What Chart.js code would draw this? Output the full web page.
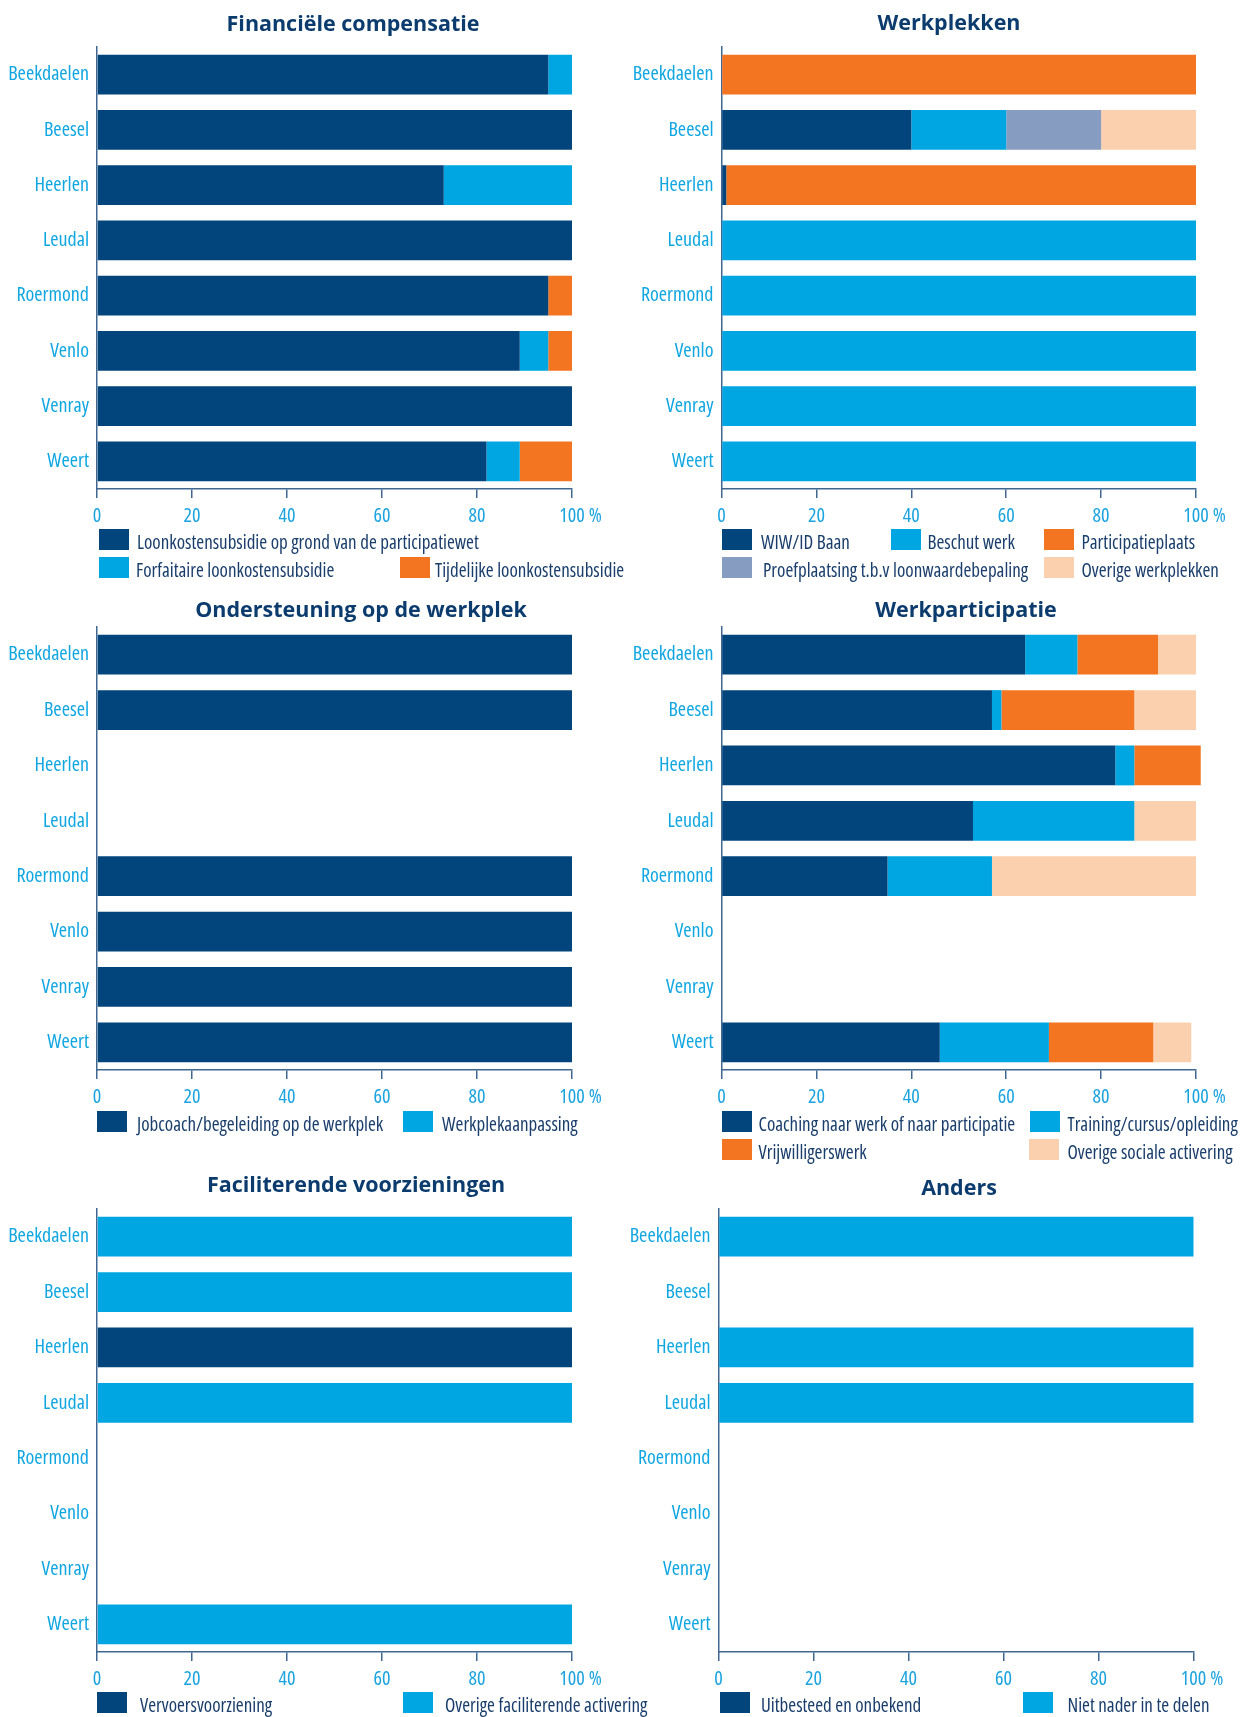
<!DOCTYPE html>
<html lang="nl">
<head>
<meta charset="utf-8">
<script src="https://cdn.jsdelivr.net/npm/chart.js@4.4.1/dist/chart.umd.min.js"></script>
<style>
  html, body { margin: 0; padding: 0; background: #ffffff; }
  #page { position: relative; width: 1244px; height: 1717px; overflow: hidden; background: #fff; }
  .wrap { position: absolute; }
  .title { position: absolute; width: 600px; text-align: center; font-family: "Open Sans", Lato, sans-serif; font-weight: 700; font-stretch: 96%; font-size: 21.5px; line-height: 28px; color: #0c3c6e; white-space: nowrap; }
  .sw { position: absolute; width: 30px; height: 21px; }
  .lt { position: absolute; font-family: "Open Sans", sans-serif; font-stretch: condensed; font-size: 19px; line-height: 21px; color: #1a3e6c; white-space: nowrap; }
</style>
</head>
<body>
<div id="page"></div>
<script>
// ---------- data ----------
const categories = ['Beekdaelen', 'Beesel', 'Heerlen', 'Leudal', 'Roermond', 'Venlo', 'Venray', 'Weert'];
const xTickValues = [0, 20, 40, 60, 80, 100];

// Financiële compensatie
const finLabels = ['Loonkostensubsidie op grond van de participatiewet', 'Forfaitaire loonkostensubsidie', 'Tijdelijke loonkostensubsidie'];
const finLoonkosten = [95, 100, 73, 100, 95, 89, 100, 82];
const finForfaitair = [5, 0, 27, 0, 0, 6, 0, 7];
const finTijdelijk  = [0, 0, 0, 0, 5, 5, 0, 11];

// Werkplekken
const wplLabels = ['WIW/ID Baan', 'Beschut werk', 'Participatieplaats', 'Proefplaatsing t.b.v loonwaardebepaling', 'Overige werkplekken'];
const wplWiw          = [0, 40, 1, 0, 0, 0, 0, 0];
const wplBeschut      = [0, 20, 0, 100, 100, 100, 100, 100];
const wplParticipatie = [100, 0, 99, 0, 0, 0, 0, 0];
const wplProef        = [0, 20, 0, 0, 0, 0, 0, 0];
const wplOverig       = [0, 20, 0, 0, 0, 0, 0, 0];

// Ondersteuning op de werkplek
const ondLabels = ['Jobcoach/begeleiding op de werkplek', 'Werkplekaanpassing'];
const ondJobcoach   = [100, 100, 0, 0, 100, 100, 100, 100];
const ondAanpassing = [0, 0, 0, 0, 0, 0, 0, 0];

// Werkparticipatie
const wpaLabels = ['Coaching naar werk of naar participatie', 'Training/cursus/opleiding', 'Vrijwilligerswerk', 'Overige sociale activering'];
const wpaCoaching   = [64, 57, 83, 53, 35, 0, 0, 46];
const wpaTraining   = [11, 2, 4, 34, 22, 0, 0, 23];
const wpaVrijwillig = [17, 28, 14, 0, 0, 0, 0, 22];
const wpaOverig     = [8, 13, 0, 13, 43, 0, 0, 8];

// Faciliterende voorzieningen
const facLabels = ['Vervoersvoorziening', 'Overige faciliterende activering'];
const facVervoer = [0, 0, 100, 0, 0, 0, 0, 0];
const facOverig  = [100, 100, 0, 100, 0, 0, 0, 100];

// Anders
const andLabels = ['Uitbesteed en onbekend', 'Niet nader in te delen'];
const andUitbesteed = [0, 0, 0, 0, 0, 0, 0, 0];
const andNietNader  = [100, 0, 100, 100, 0, 0, 0, 0];

// ---------- styles ----------
const NAVY = '#02457c', LIGHT = '#00a6e1', ORANGE = '#f37521', STEEL = '#869dc1', PEACH = '#fbd0ae';
const AXIS = '#40678f', TICK = '#1ba3e0', YLAB = '#0fa6e2';
const FAMILY = '"Open Sans", sans-serif';

const page = document.getElementById('page');

const percentPlugin = {
  id: 'percentSign',
  afterDraw(chart) {
    const s = chart.scales.x;
    const ctx = chart.ctx;
    let items;
    try { items = s.getLabelItems(); } catch (e) { items = null; }
    if (!items || !items.length) return;
    const last = items[items.length - 1];
    const [tx, ty] = last.options.translation;
    ctx.save();
    ctx.font = last.font.string;
    const w = ctx.measureText(String(last.label)).width;
    ctx.fillStyle = TICK;
    ctx.textAlign = 'left';
    ctx.textBaseline = last.options.textBaseline;
    ctx.fillText('%', tx + w / 2 + 4, ty + (last.textOffset || 0));
    ctx.restore();
  }
};

function makePanel(p) {
  const wrap = document.createElement('div');
  wrap.className = 'wrap';
  wrap.style.left = p.left + 'px';
  wrap.style.top = p.top + 'px';
  const cv = document.createElement('canvas');
  cv.width = p.width; cv.height = p.height;
  cv.style.width = p.width + 'px'; cv.style.height = p.height + 'px';
  wrap.appendChild(cv);
  page.appendChild(wrap);

  new Chart(cv, {
    type: 'bar',
    data: {
      labels: categories,
      datasets: p.series.map((d, i) => ({
        label: p.labels[i], data: d, backgroundColor: p.colors[i], borderWidth: 0, clip: false
      }))
    },
    options: {
      indexAxis: 'y',
      responsive: false,
      animation: false,
      devicePixelRatio: 1,
      layout: { padding: { top: p.pt, bottom: p.pb, left: 0, right: p.pr } },
      datasets: { bar: { barPercentage: 0.72, categoryPercentage: 1 } },
      plugins: { legend: { display: false }, tooltip: { enabled: false }, title: { display: false } },
      scales: {
        x: {
          stacked: true, min: 0, max: 100,
          afterBuildTicks: s => { s.ticks = xTickValues.map(v => ({ value: v })); },
          afterFit: s => { s.height = 40; },
          grid: { drawOnChartArea: false, drawTicks: true, tickLength: 9, color: AXIS, lineWidth: 1.5 },
          border: { display: true, color: AXIS, width: 1.5 },
          ticks: { color: TICK, font: { family: FAMILY, size: 20, weight: 'condensed' }, padding: 6, maxRotation: 0, autoSkip: false }
        },
        y: {
          stacked: true,
          afterFit: s => { s.width = p.yw; },
          grid: { display: false, drawTicks: false },
          border: { display: true, color: AXIS, width: 1.5 },
          ticks: { color: YLAB, font: { family: FAMILY, size: 20, weight: 'condensed' }, padding: 8 }
        }
      }
    },
    plugins: [percentPlugin]
  });

  const t = document.createElement('div');
  t.className = 'title';
  t.textContent = p.title;
  t.style.left = (p.titleX - 300) + 'px';
  t.style.top = (p.titleY - 14) + 'px';
  page.appendChild(t);

  p.legend.forEach((it) => {
    const sw = document.createElement('div');
    sw.className = 'sw';
    sw.style.left = it.sx + 'px';
    sw.style.top = it.sy + 'px';
    sw.style.background = p.colors[it.i];
    page.appendChild(sw);
    const lt = document.createElement('div');
    lt.className = 'lt';
    lt.textContent = p.labels[it.i];
    lt.style.left = it.tx + 'px';
    lt.style.top = (it.sy + 3) + 'px';
    page.appendChild(lt);
  });
}

// Row 1
makePanel({
  title: 'Financiële compensatie', titleX: 353, titleY: 23,
  left: 0, top: 0, width: 620, height: 530, pt: 47, pb: 1, pr: 48, yw: 97,
  labels: finLabels, series: [finLoonkosten, finForfaitair, finTijdelijk], colors: [NAVY, LIGHT, ORANGE],
  legend: [{ i: 0, sx: 99, sy: 529, tx: 137 }, { i: 1, sx: 99, sy: 557, tx: 136 }, { i: 2, sx: 400, sy: 557, tx: 435 }]
});
makePanel({
  title: 'Werkplekken', titleX: 949, titleY: 22,
  left: 620, top: 0, width: 624, height: 530, pt: 47, pb: 1, pr: 48, yw: 101.5,
  labels: wplLabels, series: [wplWiw, wplBeschut, wplParticipatie, wplProef, wplOverig], colors: [NAVY, LIGHT, ORANGE, STEEL, PEACH],
  legend: [{ i: 0, sx: 721.5, sy: 529, tx: 761 }, { i: 1, sx: 890.5, sy: 529, tx: 927.5 }, { i: 2, sx: 1044, sy: 529, tx: 1081.5 },
           { i: 3, sx: 721.5, sy: 557, tx: 763 }, { i: 4, sx: 1044, sy: 557, tx: 1081.5 }]
});
// Row 2
makePanel({
  title: 'Ondersteuning op de werkplek', titleX: 361, titleY: 609,
  left: 0, top: 585, width: 620, height: 530, pt: 42, pb: 5, pr: 48, yw: 97,
  labels: ondLabels, series: [ondJobcoach, ondAanpassing], colors: [NAVY, LIGHT],
  legend: [{ i: 0, sx: 97, sy: 1111, tx: 137 }, { i: 1, sx: 403, sy: 1111, tx: 442 }]
});
makePanel({
  title: 'Werkparticipatie', titleX: 966, titleY: 609,
  left: 620, top: 585, width: 624, height: 530, pt: 42, pb: 5, pr: 48, yw: 101.5,
  labels: wpaLabels, series: [wpaCoaching, wpaTraining, wpaVrijwillig, wpaOverig], colors: [NAVY, LIGHT, ORANGE, PEACH],
  legend: [{ i: 0, sx: 721.5, sy: 1111, tx: 758.5 }, { i: 1, sx: 1030, sy: 1111, tx: 1067.5 },
           { i: 2, sx: 721.5, sy: 1139, tx: 758.5 }, { i: 3, sx: 1029, sy: 1139, tx: 1067.5 }]
});
// Row 3
makePanel({
  title: 'Faciliterende voorzieningen', titleX: 356, titleY: 1184,
  left: 0, top: 1160, width: 620, height: 557, pt: 49, pb: 25, pr: 48, yw: 97,
  labels: facLabels, series: [facVervoer, facOverig], colors: [NAVY, LIGHT],
  legend: [{ i: 0, sx: 97, sy: 1692, tx: 140 }, { i: 1, sx: 402.5, sy: 1692, tx: 445 }]
});
makePanel({
  title: 'Anders', titleX: 959, titleY: 1187,
  left: 620, top: 1160, width: 624, height: 557, pt: 49, pb: 25, pr: 50.5, yw: 98.5,
  labels: andLabels, series: [andUitbesteed, andNietNader], colors: [NAVY, LIGHT],
  legend: [{ i: 0, sx: 719.5, sy: 1692, tx: 761 }, { i: 1, sx: 1023, sy: 1692, tx: 1067.5 }]
});
</script>
</body>
</html>
